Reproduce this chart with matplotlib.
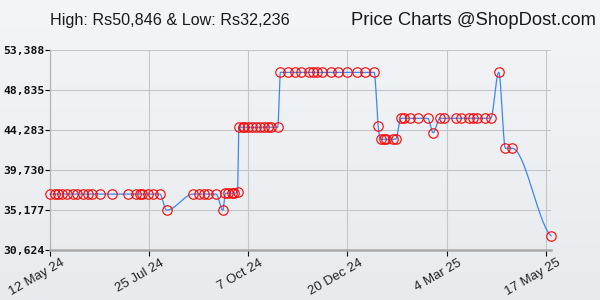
import numpy as np
import pandas as pd
import matplotlib
matplotlib.use("Agg")
import matplotlib.pyplot as plt
import matplotlib.dates as mdates
import matplotlib.transforms as mtransforms
from matplotlib.colors import LinearSegmentedColormap

# ============================================================
# Data
# ============================================================
start_date = "2024-05-12"

# days after start_date for every recorded price
day_offset = [
    0, 4, 6, 9, 13, 17, 20, 25, 28, 31, 37, 46, 58, 64, 67, 69, 73, 77, 82,
    87,
    107, 111, 115, 118, 124,
    129,
    131, 133, 136, 137, 140,
    141, 144, 145, 148, 151, 154, 157, 160, 163, 165, 170,
    172, 178, 183, 187, 193, 196, 199, 203, 210, 215, 222, 229, 235, 242,
    245,
    247, 249, 251, 256, 258,
    262, 264, 269, 275, 282,
    286,
    291, 294, 303, 307, 313, 316, 319, 325, 329,
    335,
    340, 345,
    374,
]

price = (
    [36990] * 19
    + [35150]
    + [36990] * 5
    + [35150]
    + [37080] * 4 + [37260]
    + [44590] * 11
    + [50846] * 14
    + [44700]
    + [43224] * 5
    + [45614] * 5
    + [43975]
    + [45614] * 9
    + [50846]
    + [42200] * 2
    + [32236]
)

tick_dates = ["2024-05-12", "2024-07-25", "2024-10-07",
              "2024-12-20", "2025-03-04", "2025-05-17"]
tick_labels = ["12 May 24", "25 Jul 24", "7 Oct 24",
               "20 Dec 24", "4 Mar 25", "17 May 25"]

y_ticks = [30624, 35177, 39730, 44283, 48835, 53388]
y_tick_labels = ["30,624", "35,177", "39,730", "44,283", "48,835", "53,388"]

title_left = "High: Rs50,846 & Low: Rs32,236"
title_right = "Price Charts @ShopDost.com"


# ============================================================
# Monotone cubic line through the points
# ============================================================
def monotone_curve(x, y, per_seg=40):
    x = np.asarray(x, float)
    y = np.asarray(y, float)
    n = len(x)
    h = np.diff(x)
    d = np.diff(y) / h
    m = np.zeros(n)
    # soft ends
    m[0] = 0.4 * d[0]
    m[-1] = 0.4 * d[-1]
    for i in range(1, n - 1):
        if np.sign(d[i - 1]) != np.sign(d[i]):
            m[i] = 0.0
        else:
            m[i] = (d[i - 1] + d[i]) / 2
    for i in range(n - 1):
        if d[i] == 0:
            m[i] = m[i + 1] = 0.0
            continue
        a = m[i] / d[i]
        b = m[i + 1] / d[i]
        tau = a * a + b * b
        if tau > 9:
            t = 3 / np.sqrt(tau)
            m[i] = a * t * d[i]
            m[i + 1] = b * t * d[i]
    xs, ys = [], []
    for i in range(n - 1):
        t = np.linspace(0, 1, per_seg)
        h00 = 2 * t**3 - 3 * t**2 + 1
        h10 = t**3 - 2 * t**2 + t
        h01 = -2 * t**3 + 3 * t**2
        h11 = t**3 - t**2
        xs.append(x[i] + t * h[i])
        ys.append(h00 * y[i] + h10 * h[i] * m[i] + h01 * y[i + 1] + h11 * h[i] * m[i + 1])
    return np.concatenate(xs), np.concatenate(ys)


dates = pd.to_datetime(start_date) + pd.to_timedelta(day_offset, unit="D")
xnum = mdates.date2num(dates.to_pydatetime())
yvals = np.array(price, float)
cx, cy = monotone_curve(xnum, yvals)

# ============================================================
# Figure
# ============================================================
fig = plt.figure(figsize=(6, 3), dpi=100)

# soft vertical gradient background
bg = fig.add_axes([0, 0, 1, 1], zorder=-5)
cmap = LinearSegmentedColormap.from_list("bg", ["#e8ebee", "#f3f5f8"])
bg.imshow(np.linspace(0, 1, 256).reshape(-1, 1), aspect="auto", cmap=cmap,
          origin="lower", extent=[0, 1, 0, 1])
bg.axis("off")

ax = fig.add_axes([50 / 600, 50 / 300, 501 / 600, 200 / 300])
ax.set_facecolor("none")

ax.plot(cx, cy, color="#3d86f2", lw=0.9, zorder=3, clip_on=False)
ax.plot(xnum, yvals, linestyle="none", marker="o", ms=6.8, mfc="none",
        mec="#ff0000", mew=0.8, zorder=4, clip_on=False)

ax.set_xlim(xnum[0], xnum[-1])
ax.set_ylim(y_ticks[0], y_ticks[-1])

tick_num = mdates.date2num(pd.to_datetime(tick_dates).to_pydatetime())
ax.set_xticks(tick_num)
ax.set_xticklabels([])
ax.set_yticks(y_ticks)
ax.set_yticklabels(y_tick_labels, fontfamily="DejaVu Sans Mono",
                   fontweight="bold", fontsize=8.2, color="#111111")

ax.grid(True, color="#c6c6c6", lw=0.8, zorder=0)
ax.set_axisbelow(True)

for side in ["top", "right"]:
    ax.spines[side].set_visible(False)
ax.spines["left"].set_color("#b5b5b5")
ax.spines["left"].set_linewidth(0.9)
ax.spines["bottom"].set_color("#aaaaaa")
ax.spines["bottom"].set_linewidth(1.8)

ax.tick_params(axis="y", direction="out", length=3.5, width=0.8,
               color="black", pad=0.5)
ax.tick_params(axis="x", direction="out", length=4, width=0.8, color="black")

# rotated date labels, top-right corner a bit right of each tick
offset = mtransforms.ScaledTranslation(0.11, -0.07, fig.dpi_scale_trans)
for xv, lab in zip(tick_num, tick_labels):
    ax.text(xv, 0, lab, transform=ax.get_xaxis_transform() + offset,
            rotation=30, rotation_mode="anchor", ha="right", va="top",
            fontsize=9.5, family="Liberation Sans", color="#222222")

fig.text(50 / 600, 275 / 300, title_left, fontsize=11.6,
         family="Liberation Sans", color="#1a1a1a", ha="left", va="baseline")
fig.text(596 / 600, 275 / 300, title_right, fontsize=13.2,
         family="Liberation Sans", color="#1a1a1a", ha="right", va="baseline")

fig.savefig("out.png", dpi=100)
